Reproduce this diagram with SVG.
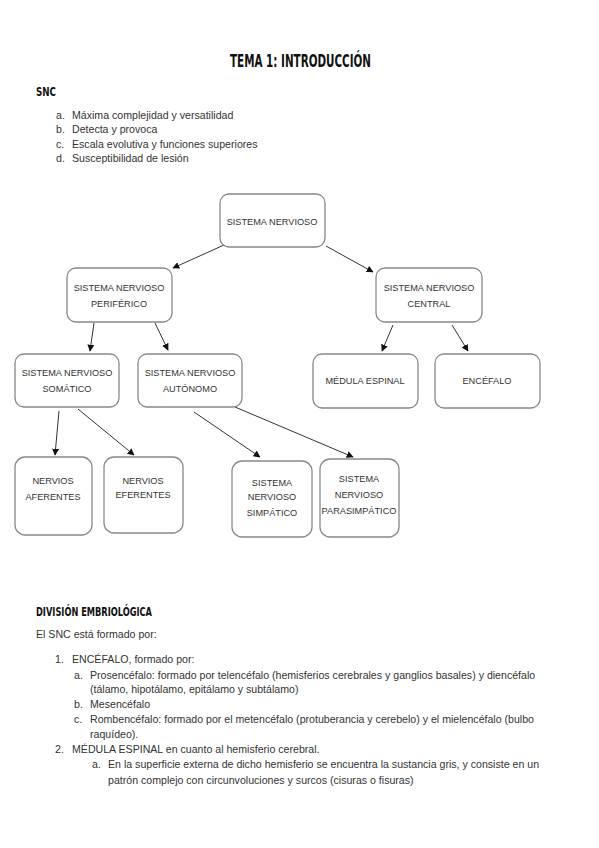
<svg xmlns="http://www.w3.org/2000/svg" width="599" height="848" viewBox="0 0 599 848">
<defs>
<style>
.t{font-family:"Liberation Sans","DejaVu Sans",sans-serif;font-size:10.6px;fill:#333}
.h{font-family:"DejaVu Sans Condensed","DejaVu Sans",sans-serif;font-weight:bold;font-size:12.5px;fill:#111}
.n{font-family:"Liberation Sans","DejaVu Sans",sans-serif;font-size:9.2px;fill:#333;text-anchor:middle}
.b{fill:#fff;stroke:#888;stroke-width:1.3}
.c{stroke:#333;stroke-width:1;fill:none;marker-end:url(#a)}
</style>
<marker id="a" viewBox="0 0 10 10" refX="9" refY="5" markerWidth="7" markerHeight="7" orient="auto">
<path d="M0,0 L10,5 L0,10 z" fill="#111"/>
</marker>
</defs>
<rect width="599" height="848" fill="#fff"/>
<text x="230" y="67" textLength="141" lengthAdjust="spacingAndGlyphs" style="font-family:'DejaVu Sans Condensed','DejaVu Sans',sans-serif;font-weight:bold;font-size:17px;fill:#111">TEMA 1: INTRODUCCIÓN</text>
<text class="h" x="36" y="96" textLength="20" lengthAdjust="spacingAndGlyphs">SNC</text>
<g class="t">
<text x="56" y="119">a.</text><text x="72" y="119">Máxima complejidad y versatilidad</text>
<text x="56" y="133">b.</text><text x="72" y="133">Detecta y provoca</text>
<text x="56" y="148">c.</text><text x="72" y="148">Escala evolutiva y funciones superiores</text>
<text x="56" y="162">d.</text><text x="72" y="162">Susceptibilidad de lesión</text>
</g>
<g id="connectors">
<line class="c" x1="224" y1="245" x2="173" y2="268"/>
<line class="c" x1="326" y1="246" x2="373" y2="272"/>
<line class="c" x1="94" y1="323" x2="90" y2="351"/>
<line class="c" x1="155" y1="323" x2="168" y2="350"/>
<line class="c" x1="393" y1="325" x2="382" y2="351"/>
<line class="c" x1="452" y1="325" x2="468" y2="351"/>
<line class="c" x1="59" y1="411" x2="55" y2="455"/>
<line class="c" x1="78" y1="409" x2="134" y2="455"/>
<line class="c" x1="194" y1="412" x2="260" y2="457"/>
<line class="c" x1="235" y1="407" x2="353" y2="457"/>
</g>
<g id="n-sn"><rect class="b" x="220" y="194" width="105" height="53" rx="9"/><text class="n" x="272" y="225">SISTEMA NERVIOSO</text></g>
<g id="n-snp"><rect class="b" x="67" y="268" width="105" height="54" rx="9"/><text class="n" x="119" y="291">SISTEMA NERVIOSO</text><text class="n" x="119" y="307">PERIFÉRICO</text></g>
<g id="n-snc"><rect class="b" x="376" y="268" width="106" height="54" rx="9"/><text class="n" x="429" y="291">SISTEMA NERVIOSO</text><text class="n" x="429" y="307">CENTRAL</text></g>
<g id="n-som"><rect class="b" x="15" y="354" width="104" height="53" rx="9"/><text class="n" x="67" y="376">SISTEMA NERVIOSO</text><text class="n" x="67" y="392">SOMÁTICO</text></g>
<g id="n-aut"><rect class="b" x="138" y="354" width="104" height="53" rx="9"/><text class="n" x="190" y="376">SISTEMA NERVIOSO</text><text class="n" x="190" y="392">AUTÓNOMO</text></g>
<g id="n-med"><rect class="b" x="313" y="354" width="105" height="54" rx="9"/><text class="n" x="365" y="384">MÉDULA ESPINAL</text></g>
<g id="n-enc"><rect class="b" x="435" y="354" width="105" height="54" rx="9"/><text class="n" x="487" y="384">ENCÉFALO</text></g>
<g id="n-afe"><rect class="b" x="15" y="457" width="77" height="78" rx="10"/><text class="n" x="53" y="484">NERVIOS</text><text class="n" x="53" y="500">AFERENTES</text></g>
<g id="n-efe"><rect class="b" x="104" y="457" width="79" height="76" rx="10"/><text class="n" x="143" y="484">NERVIOS</text><text class="n" x="143" y="498">EFERENTES</text></g>
<g id="n-sim"><rect class="b" x="232" y="461" width="80" height="76" rx="10"/><text class="n" x="272" y="486">SISTEMA</text><text class="n" x="272" y="500">NERVIOSO</text><text class="n" x="272" y="516">SIMPÁTICO</text></g>
<g id="n-par"><rect class="b" x="320" y="459" width="79" height="78" rx="10"/><text class="n" x="359" y="482">SISTEMA</text><text class="n" x="359" y="498">NERVIOSO</text><text class="n" x="359" y="514">PARASIMPÁTICO</text></g>
<text class="h" x="36" y="616" textLength="116" lengthAdjust="spacingAndGlyphs">DIVISIÓN EMBRIOLÓGICA</text>
<g class="t">
<text x="36" y="638">El SNC está formado por:</text>
<text x="55" y="663">1.</text><text x="72" y="663">ENCÉFALO, formado por:</text>
<text x="74" y="679">a.</text><text x="90" y="679">Prosencéfalo: formado por telencéfalo (hemisferios cerebrales y ganglios basales) y diencéfalo</text>
<text x="90" y="693">(tálamo, hipotálamo, epitálamo y subtálamo)</text>
<text x="74" y="708">b.</text><text x="90" y="708">Mesencéfalo</text>
<text x="74" y="723">c.</text><text x="90" y="723">Rombencéfalo: formado por el metencéfalo (protuberancia y cerebelo) y el mielencéfalo (bulbo</text>
<text x="90" y="738">raquídeo).</text>
<text x="55" y="753">2.</text><text x="72" y="753">MÉDULA ESPINAL en cuanto al hemisferio cerebral.</text>
<text x="92" y="768">a.</text><text x="108" y="768">En la superficie externa de dicho hemisferio se encuentra la sustancia gris, y consiste en un</text>
<text x="108" y="784">patrón complejo con circunvoluciones y surcos (cisuras o fisuras)</text>
</g>
</svg>
